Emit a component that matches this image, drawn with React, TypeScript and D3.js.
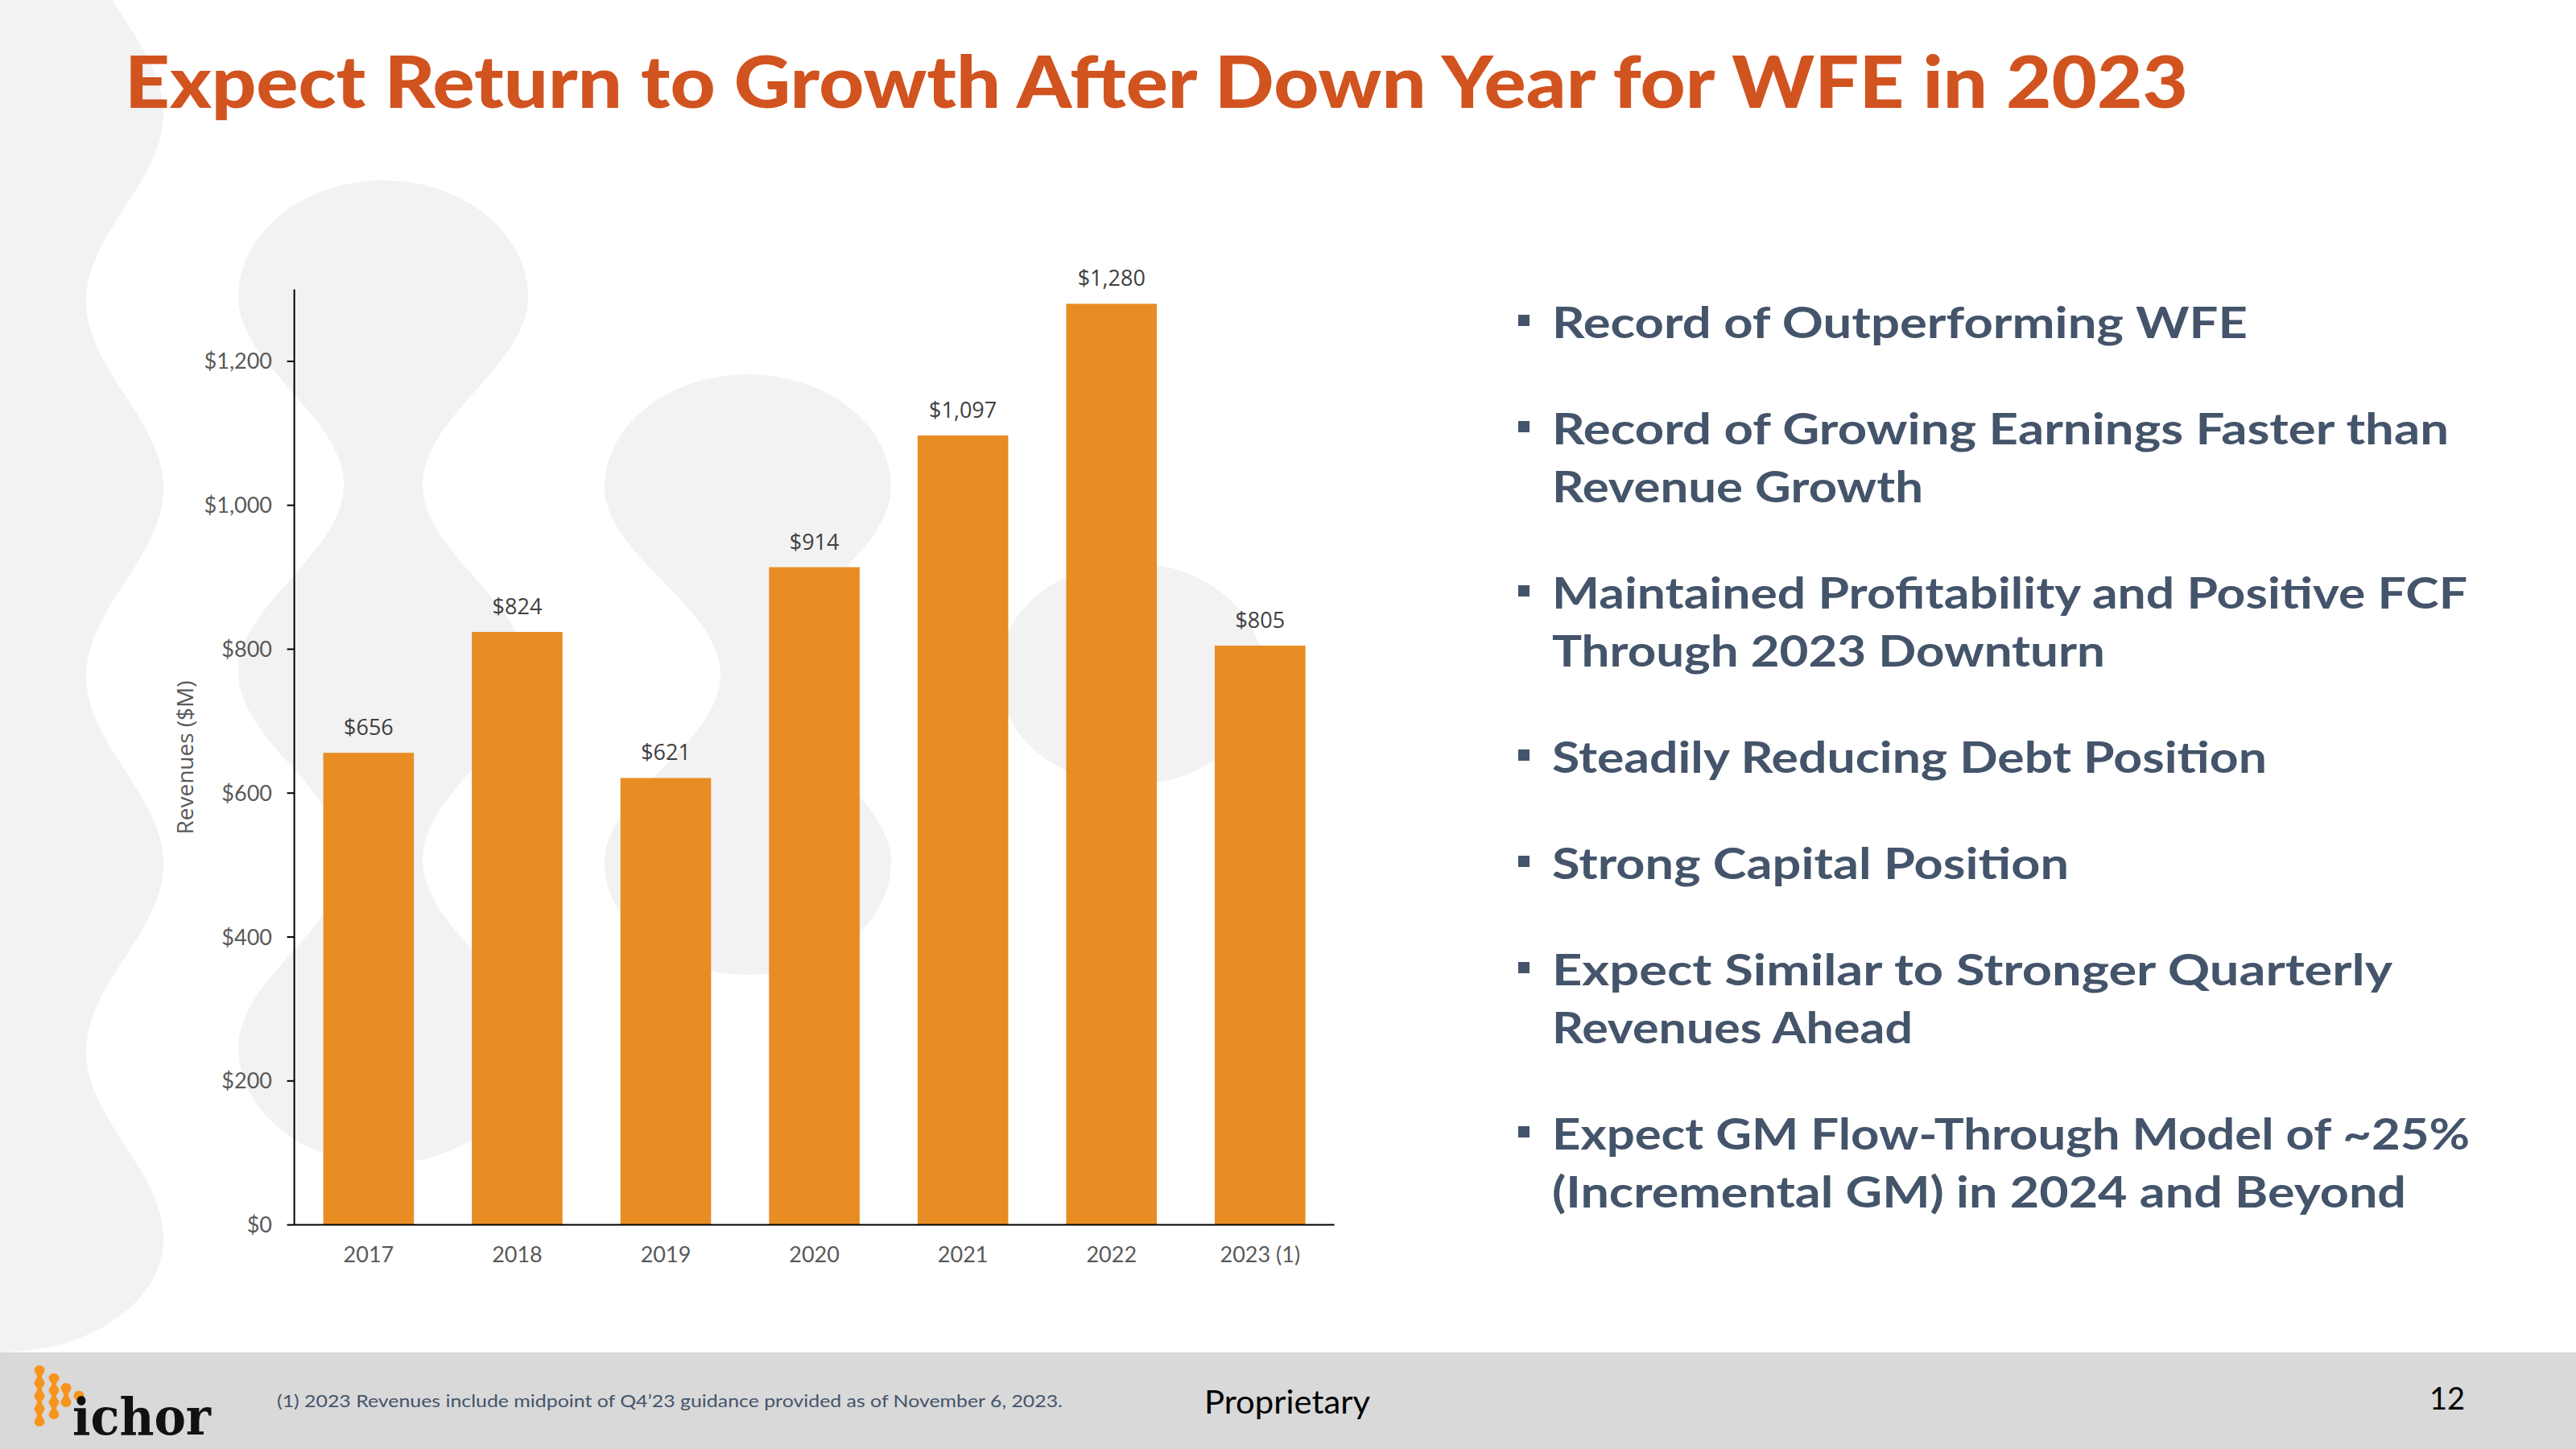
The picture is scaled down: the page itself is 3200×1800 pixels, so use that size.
import React from "react";
import * as d3 from "d3";

// ---------------- data ----------------
const years = ["2017", "2018", "2019", "2020", "2021", "2022", "2023 (1)"];
const revenues = [656, 824, 621, 914, 1097, 1280, 805];
const yTickValues = [0, 200, 400, 600, 800, 1000, 1200];
const yAxisTitle = "Revenues ($M)";
const titleText = "Expect Return to Growth After Down Year for WFE in 2023";
const bulletItems = [
  ["Record of Outperforming WFE"],
  ["Record of Growing Earnings Faster than", "Revenue Growth"],
  ["Maintained Profitability and Positive FCF", "Through 2023 Downturn"],
  ["Steadily Reducing Debt Position"],
  ["Strong Capital Position"],
  ["Expect Similar to Stronger Quarterly", "Revenues Ahead"],
  ["Expect GM Flow-Through Model of ~25%", "(Incremental GM) in 2024 and Beyond"],
];
const footnoteText =
  "(1) 2023 Revenues include midpoint of Q4\u201923 guidance provided as of November 6, 2023.";
const footerLabel = "Proprietary";
const pageNumber = "12";
const logoWord = "ichor";

// ---------------- layout / style ----------------
const W = 3200;
const H = 1800;
const C = {
  title: "#D1531F",
  bar: "#E78D24",
  slate: "#44546A",
  tick: "#595959",
  value: "#404040",
  deco: "#F2F2F2",
  footer: "#D9D9D9",
  logoOrange: "#F7941E",
};
const bulletLineWidths = [864, 1114, 461, 1137, 687, 888, 642, 1044, 448, 1140, 1061];

// wavy column (decorative background) path
function columnPath(
  cx: number,
  yTop: number,
  nLobes: number,
  period: number,
  rx: number,
  neck: number,
  capRy: number
) {
  const m = (rx + neck) / 2;
  const a = (rx - neck) / 2;
  const yBottom = yTop + (nLobes - 1) * period;
  const w = (yy: number) => m + a * Math.cos((2 * Math.PI * (yy - yTop)) / period);
  const ys = d3.range(yTop, yBottom + 0.001, Math.max(0.5, period / 60));
  if (ys[ys.length - 1] < yBottom) ys.push(yBottom);
  const right = ys.map((yy) => [cx + w(yy), yy]);
  const left = ys.slice().reverse().map((yy) => [cx - w(yy), yy]);
  let p = `M${right[0][0]},${right[0][1]}`;
  right.slice(1).forEach((pt) => (p += `L${pt[0]},${pt[1]}`));
  p += `A${rx},${capRy} 0 0 1 ${cx - rx},${yBottom}`;
  left.slice(1).forEach((pt) => (p += `L${pt[0]},${pt[1]}`));
  p += `A${rx},${capRy} 0 0 1 ${cx + rx},${yTop}Z`;
  return p;
}

export default function App() {
  const x = d3
    .scaleBand<string>()
    .domain(years)
    .range([365.6, 1657.6])
    .paddingInner(0.39)
    .paddingOuter(0.195);
  const y = d3.scaleLinear().domain([0, 1300]).range([1521.6, 359.5]);
  const fmt = d3.format("$,.0f");
  const axisX = x.range()[0];
  const axisY = y(0);

  // bullet line baselines
  const lines: { text: string; y: number; first: boolean }[] = [];
  let by = 420;
  bulletItems.forEach((item, i) => {
    if (i > 0) by += 132;
    item.forEach((t, j) => {
      if (j > 0) by += 72;
      lines.push({ text: t, y: by, first: j === 0 });
    });
  });

  const sans = "Lato, 'Open Sans', sans-serif";
  const cal = "'Open Sans', 'Noto Sans', sans-serif";

  return (
    <svg
      width={W}
      height={H}
      viewBox={`0 0 ${W} ${H}`}
      style={{ position: "absolute", left: 0, top: 0, background: "#ffffff" }}
    >
      <rect x={0} y={0} width={W} height={H} fill="#ffffff" />
      {/* decorative background shapes */}
      <g fill={C.deco}>
        <path d={columnPath(0, -325, 5, 466, 203, 107, 141)} />
        <path d={columnPath(476, 369, 3, 466, 180, 49, 145)} />
        <path d={columnPath(929, 605, 2, 466, 178, 34, 140)} />
        <ellipse cx={1405} cy={837} rx={165} ry={138} />
      </g>

      {/* title */}
      <text
        x={155}
        y={134}
        fontFamily={sans}
        fontWeight={900}
        fontSize={89}
        fill={C.title}
        textLength={2563}
        lengthAdjust="spacingAndGlyphs"
      >
        {titleText}
      </text>

      {/* bars */}
      <g>
        {revenues.map((v, i) => (
          <rect
            key={years[i]}
            x={x(years[i])}
            y={y(v)}
            width={x.bandwidth()}
            height={y(0) - y(v)}
            fill={C.bar}
          />
        ))}
      </g>
      {/* value labels */}
      <g fontFamily={cal} fontSize={27} fill={C.value} textAnchor="middle">
        {revenues.map((v, i) => (
          <text key={years[i]} x={(x(years[i]) as number) + x.bandwidth() / 2} y={y(v) - 22}>
            {fmt(v)}
          </text>
        ))}
      </g>

      {/* y axis */}
      <line x1={axisX} x2={axisX} y1={y(1300)} y2={axisY} stroke="#000" strokeWidth={2} />
      <g fontFamily={sans} fontSize={27} fill={C.tick} textAnchor="end">
        {yTickValues.map((t) => (
          <g key={t}>
            <line x1={axisX - 9} x2={axisX} y1={y(t)} y2={y(t)} stroke="#000" strokeWidth={2} />
            <text x={338} y={y(t) + 9.5}>
              {fmt(t)}
            </text>
          </g>
        ))}
      </g>
      <text
        transform={`translate(229,941) rotate(-90)`}
        fontFamily={cal}
        fontSize={28}
        fill={C.tick}
        textAnchor="middle"
        dominantBaseline="central"
      >
        {yAxisTitle}
      </text>

      {/* x axis */}
      <line x1={axisX} x2={x.range()[1]} y1={axisY} y2={axisY} stroke="#000" strokeWidth={2} />
      <g fontFamily={sans} fontSize={27} fill={C.tick} textAnchor="middle">
        {years.map((yr) => (
          <text key={yr} x={(x(yr) as number) + x.bandwidth() / 2} y={axisY + 46}>
            {yr}
          </text>
        ))}
      </g>

      {/* bullets */}
      <g fontFamily={sans} fontWeight={700} fontSize={53} fill={C.slate}>
        {lines.map((l, i) => (
          <g key={i}>
            {l.first && <rect x={1886} y={l.y - 29} width={14} height={14} fill={C.slate} />}
            <text x={1928} y={l.y} textLength={bulletLineWidths[i]} lengthAdjust="spacingAndGlyphs">
              {l.text}
            </text>
          </g>
        ))}
      </g>

      {/* footer */}
      <rect x={0} y={1680} width={W} height={120} fill={C.footer} />
      <g fill={C.logoOrange}>
        <path d={columnPath(49, 1702, 5, 16, 6.5, 3, 6)} />
        <path d={columnPath(67, 1712, 4, 15, 6.5, 3, 6)} />
        <path d={columnPath(82, 1724, 2, 18, 6.5, 3, 6)} />
        <circle cx={98} cy={1734} r={6.5} />
      </g>
      <text
        x={90}
        y={1782}
        fontFamily="'DejaVu Serif', serif"
        fontWeight={700}
        fontSize={64}
        fill="#111"
        textLength={172}
        lengthAdjust="spacingAndGlyphs"
      >
        {logoWord}
      </text>
      <text
        x={344}
        y={1748}
        fontFamily={sans}
        fontSize={22}
        fill={C.slate}
        textLength={976}
        lengthAdjust="spacingAndGlyphs"
      >
        {footnoteText}
      </text>
      <text
        x={1496}
        y={1756}
        fontFamily={sans}
        fontSize={40}
        fill="#000"
        textLength={206}
        lengthAdjust="spacingAndGlyphs"
      >
        {footerLabel}
      </text>
      <text x={3062} y={1751} fontFamily={sans} fontSize={38} fill="#000" textAnchor="end">
        {pageNumber}
      </text>
    </svg>
  );
}
